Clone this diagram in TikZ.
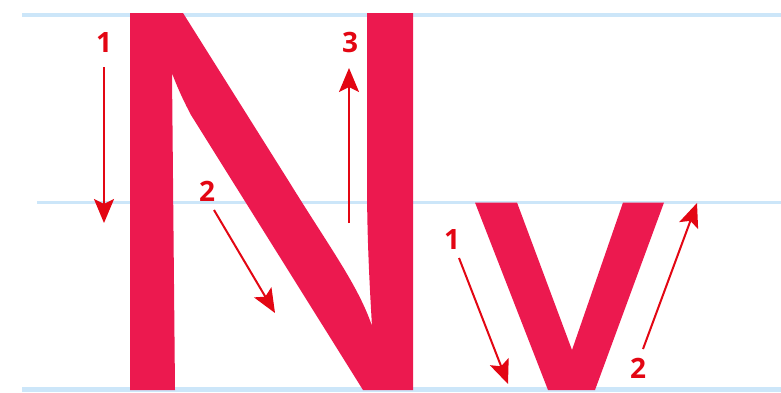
\documentclass[tikz,border=0pt]{standalone}
\usepackage{fontspec}
\setsansfont{Open Sans}
\usepackage{tikz}
\usetikzlibrary{arrows.meta}

\definecolor{azzurro}{RGB}{204,230,249}
\definecolor{lettera}{RGB}{236,25,79}
\definecolor{rosso}{RGB}{227,6,19}

\begin{document}
\begin{tikzpicture}[x=1pt,y=-1pt]

\tikzset{
    riga_spessa/.style={azzurro, line width=4.8pt},
    riga_sottile/.style={azzurro, line width=2.8pt}
}

\tikzset{
    freccia_tratto/.style={
        rosso, line width=2pt,
        -{Stealth[length=24pt,width=20pt,inset=5pt]}
    },
    numero/.style={
        rosso, inner sep=0pt,
        font=\sffamily\bfseries\fontsize{28}{28}\selectfont
    }
}

\useasboundingbox (0,0) rectangle (781,392);

% righe
\draw[riga_spessa] (22,15) -- (781,15);
\draw[riga_sottile] (37,202.7) -- (781,202.7);
\draw[riga_spessa] (22,389.7) -- (781,389.7);

% lettera N
\fill[lettera] (130,13) -- (183,13) -- (288,180)
    .. controls (330,248) and (358,285) .. (372,326)
    .. controls (368,260) and (367,220) .. (367,180) -- (367,13)
    -- (413,13) -- (413,390) -- (363,390) -- (191,115)
    .. controls (182,98) and (176,84) .. (172,73)
    -- (175,390) -- (130,390) -- cycle;

% lettera v
\fill[lettera] (475,202.5) -- (517,202.5) -- (572,350) -- (623,202.5)
    -- (664,202.5) -- (595,390) -- (548,390) -- cycle;

% numeri
\node[numero] (n1) at (104,42) {1};
\node[numero] (n2) at (207,191) {2};
\node[numero] (n3) at (350,42) {3};
\node[numero] (v1) at (452,239) {1};
\node[numero] (v2) at (638,368) {2};

% frecce
\coordinate (n1a) at (104,67);
\coordinate (n1b) at (104,223);
\coordinate (n2a) at (214,210);
\coordinate (n2b) at (275,313);
\coordinate (n3a) at (349,223);
\coordinate (n3b) at (349,68);
\coordinate (v1a) at (459,258);
\coordinate (v1b) at (508,384);
\coordinate (v2a) at (643,349);
\coordinate (v2b) at (697,203);

\draw[freccia_tratto] (n1a) -- (n1b);
\draw[freccia_tratto] (n2a) -- (n2b);
\draw[freccia_tratto] (n3a) -- (n3b);
\draw[freccia_tratto] (v1a) -- (v1b);
\draw[freccia_tratto] (v2a) -- (v2b);

\end{tikzpicture}
\end{document}
